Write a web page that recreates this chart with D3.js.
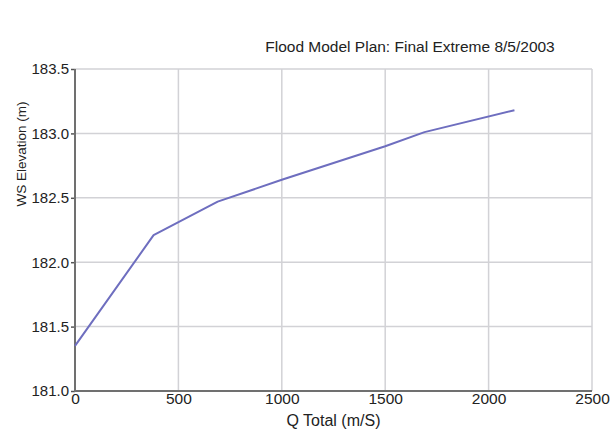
<!DOCTYPE html>
<html>
<head>
<meta charset="utf-8">
<script src="https://cdn.jsdelivr.net/npm/d3@7"></script>
<style>
  html, body { margin: 0; padding: 0; background: #fff; }
  svg { display: block; font-family: "Liberation Sans", Arial, sans-serif; }
</style>
</head>
<body>
<svg id="chart" width="610" height="432"></svg>
<script>
// Rating curve: total flow vs. water-surface elevation
const flowValues = [0, 380, 690, 1000, 1500, 1690, 2125];
const elevationValues = [181.35, 182.21, 182.47, 182.64, 182.90, 183.01, 183.18];
const xTicks = [0, 500, 1000, 1500, 2000, 2500];
const yTicks = [181.0, 181.5, 182.0, 182.5, 183.0, 183.5];

const titleText = "Flood Model Plan: Final Extreme 8/5/2003";
const xLabelText = "Q Total (m/S)";
const yLabelText = "WS Elevation (m)";

const svg = d3.select("#chart");
const m = { left: 75, right: 18, top: 69, bottom: 41 };
const W = 610, H = 432;
const FONT = "'Liberation Sans', Arial, sans-serif";

const x = d3.scaleLinear().domain([0, 2500]).range([m.left, W - m.right]);
const y = d3.scaleLinear().domain([181, 183.5]).range([H - m.bottom, m.top]);

// grid
const grid = svg.append("g");
grid.selectAll("line.v").data(xTicks.slice(1)).join("line")
  .attr("x1", d => x(d)).attr("x2", d => x(d))
  .attr("y1", y(181)).attr("y2", y(183.5))
  .attr("stroke", "#d2d2d6").attr("stroke-width", 1.5);
grid.selectAll("line.h").data(yTicks.slice(1)).join("line")
  .attr("x1", x(0)).attr("x2", x(2500))
  .attr("y1", d => y(d)).attr("y2", d => y(d))
  .attr("stroke", "#d2d2d6").attr("stroke-width", 1.5);

// y axis
const yAxis = d3.axisLeft(y).tickValues(yTicks).tickFormat(d3.format(".1f"))
  .tickSize(4).tickPadding(2);
const gy = svg.append("g").attr("transform", `translate(${x(0)},0)`).call(yAxis);
gy.select(".domain").remove();
gy.selectAll(".tick line").attr("stroke", "#555").attr("stroke-width", 1.5);
gy.selectAll(".tick text").attr("fill", "#222").style("font-size", "15px")
  .style("font-family", FONT);

// x axis
const xAxis = d3.axisBottom(x).tickValues(xTicks).tickFormat(d3.format("d"))
  .tickSize(0).tickPadding(2);
const gx = svg.append("g").attr("transform", `translate(0,${y(181)})`).call(xAxis);
gx.select(".domain").remove();
gx.selectAll(".tick text").attr("fill", "#222").style("font-size", "15.5px")
  .style("font-family", FONT);

// axis lines
svg.append("line").attr("x1", x(0)).attr("x2", x(0))
  .attr("y1", y(183.5)).attr("y2", y(181) + 1)
  .attr("stroke", "#707070").attr("stroke-width", 2);
svg.append("line").attr("x1", x(0) - 1).attr("x2", x(2500))
  .attr("y1", y(181)).attr("y2", y(181))
  .attr("stroke", "#707070").attr("stroke-width", 2);

// curve
const line = d3.line().x((d, i) => x(flowValues[i])).y(d => y(d));
svg.append("path").datum(elevationValues)
  .attr("d", line).attr("fill", "none")
  .attr("stroke", "#6e6ebf").attr("stroke-width", 2)
  .attr("stroke-linejoin", "round");

// labels
svg.append("text").attr("x", 410).attr("y", 52).attr("text-anchor", "middle")
  .style("font-size", "15.5px").attr("fill", "#222").text(titleText);
svg.append("text").attr("x", (x(0) + x(2500)) / 2).attr("y", 426)
  .attr("text-anchor", "middle").style("font-size", "16px").attr("fill", "#222")
  .text(xLabelText);
svg.append("text").attr("transform", "translate(26,154) rotate(-90)")
  .attr("text-anchor", "middle").style("font-size", "13.5px").attr("fill", "#222")
  .text(yLabelText);
</script>
</body>
</html>
